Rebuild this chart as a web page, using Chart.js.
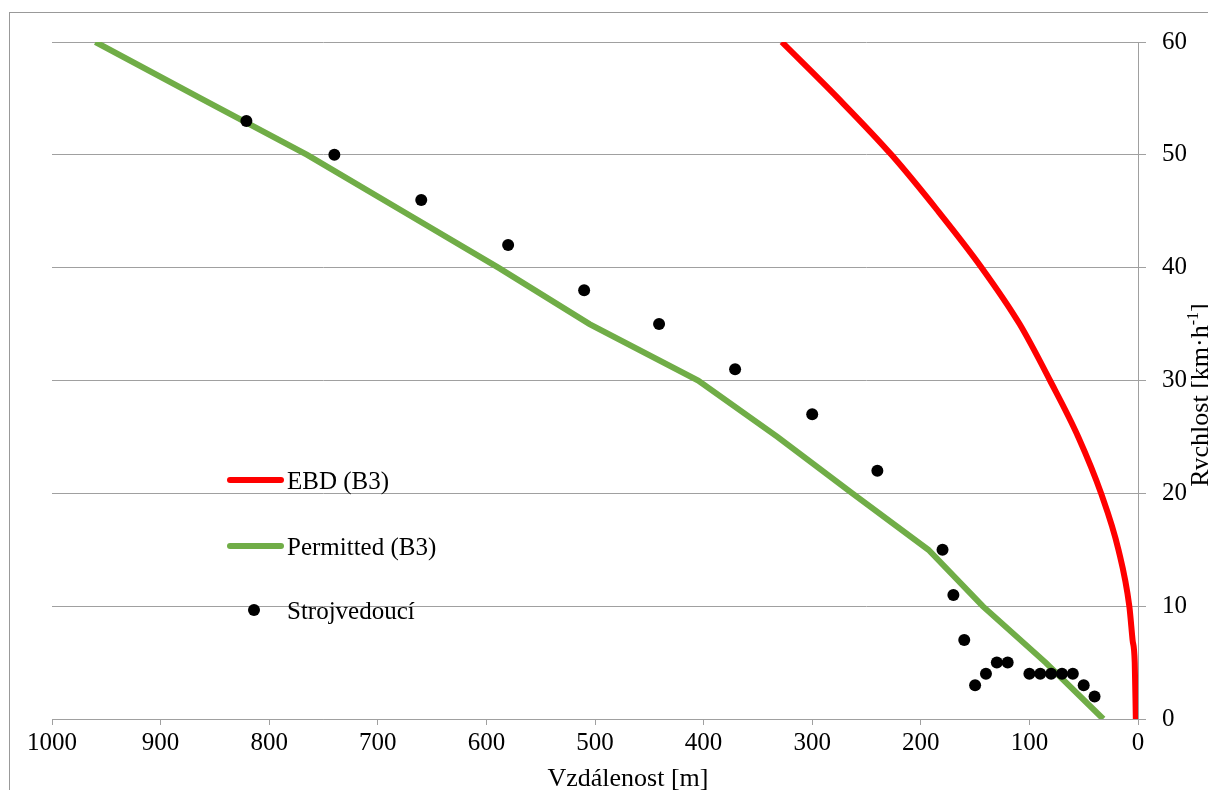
<!DOCTYPE html>
<html>
<head>
<meta charset="utf-8">
<script src="https://cdn.jsdelivr.net/npm/chart.js@4/dist/chart.umd.min.js"></script>
<style>
  html, body { margin: 0; padding: 0; background: #fff; }
  #wrap { width: 1208px; height: 790px; }
</style>
</head>
<body>
<div id="wrap"><canvas id="chart1" width="1208" height="790"></canvas></div>
<script>
// EBD (B3) krivka
var ebdDist  = [328, 276, 227, 184, 144, 109, 81, 55, 34, 18, 8, 5, 3, 2]
var ebdSpeed = [60, 55, 50, 45, 40, 35, 30, 25, 20, 15, 10, 7, 5, 0]

// Permitted (B3) krivka
var permDist  = [960, 863, 765, 677, 589, 505, 405, 332, 263, 193, 143, 85, 32]
var permSpeed = [60, 55, 50, 45, 40, 35, 30, 25, 20, 15, 10, 5, 0]

// jizda strojvedouciho
var drvDist  = [821, 740, 660, 580, 510, 441, 371, 300, 240, 180, 170, 160, 150, 140, 130, 120, 100, 90, 80, 70, 60, 50, 40]
var drvSpeed = [53, 50, 46, 42, 38, 35, 31, 27, 22, 15, 11, 7, 3, 4, 5, 5, 4, 4, 4, 4, 4, 3, 2]

var xTicks = [0, 100, 200, 300, 400, 500, 600, 700, 800, 900, 1000]
var yTicks = [0, 10, 20, 30, 40, 50, 60]

var xTitle = 'Vzdálenost [m]'
var yTitle = ['Rychlost [km·h', '-1', ']']

function pts(xs, ys) {
  return xs.map(function (x, i) { return { x: x, y: ys[i] } })
}

var gridColor = '#a0a0a0'
Chart.defaults.font.family = "'Liberation Serif', 'Times New Roman', serif"
Chart.defaults.color = '#000'

// ramecek kolem grafu
var frame = {
  id: 'frame',
  beforeDraw: function (chart) {
    var ctx = chart.ctx
    ctx.save()
    ctx.fillStyle = '#fff'
    ctx.fillRect(0, 0, chart.width, chart.height)
    ctx.strokeStyle = '#999'
    ctx.lineWidth = 1
    ctx.strokeRect(9.5, 12.5, chart.width + 20, chart.height + 20)
    ctx.restore()
  }
}

// legenda uvnitr plochy grafu + popisky os
var extras = {
  id: 'extras',
  afterDraw: function (chart) {
    var ctx = chart.ctx
    var ds = chart.data.datasets
    var rows = [480, 546, 610]
    ctx.save()
    ctx.font = "25px 'Liberation Serif'"
    ctx.fillStyle = '#000'
    ctx.textBaseline = 'alphabetic'
    ds.forEach(function (d, i) {
      var y = rows[i]
      if (d.showLine) {
        ctx.strokeStyle = d.borderColor
        ctx.lineWidth = d.borderWidth
        ctx.lineCap = 'round'
        ctx.beginPath()
        ctx.moveTo(230, y)
        ctx.lineTo(281, y)
        ctx.stroke()
      } else {
        ctx.fillStyle = d.backgroundColor
        ctx.beginPath()
        ctx.arc(254, y, d.pointRadius, 0, Math.PI * 2)
        ctx.fill()
      }
      ctx.fillStyle = '#000'
      ctx.fillText(d.label, 287, y + 9)
    })

    // popisek osy x
    ctx.font = "26px 'Liberation Serif'"
    ctx.textAlign = 'center'
    ctx.fillText(xTitle, 628, 786)

    // popisek osy y (otoceny, s hornim indexem)
    ctx.translate(1208, 395)
    ctx.rotate(-Math.PI / 2)
    ctx.textAlign = 'left'
    var big = "26px 'Liberation Serif'"
    var small = "16px 'Liberation Serif'"
    ctx.font = big
    var w0 = ctx.measureText(yTitle[0]).width
    var w2 = ctx.measureText(yTitle[2]).width
    ctx.font = small
    var w1 = ctx.measureText(yTitle[1]).width
    var x0 = -(w0 + w1 + w2) / 2
    ctx.font = big
    ctx.fillText(yTitle[0], x0, 0)
    ctx.font = small
    ctx.fillText(yTitle[1], x0 + w0, -10)
    ctx.font = big
    ctx.fillText(yTitle[2], x0 + w0 + w1, 0)
    ctx.restore()
  }
}

var chartData = {
  datasets: [
    {
      label          : 'EBD (B3)',
      data           : pts(ebdDist, ebdSpeed),
      showLine       : true,
      borderColor    : '#ff0000',
      backgroundColor: '#ff0000',
      borderWidth    : 6,
      pointRadius    : 0,
      cubicInterpolationMode: 'monotone',
      order          : 1
    },
    {
      label          : 'Permitted (B3)',
      data           : pts(permDist, permSpeed),
      showLine       : true,
      borderColor    : '#70ad47',
      backgroundColor: '#70ad47',
      borderWidth    : 6,
      pointRadius    : 0,
      tension        : 0,
      order          : 2
    },
    {
      label          : 'Strojvedoucí',
      data           : pts(drvDist, drvSpeed),
      showLine       : false,
      backgroundColor: '#000',
      borderColor    : '#000',
      pointRadius    : 6,
      pointBorderWidth: 0,
      order          : 0
    }
  ]
}

var chartOptions = {
  responsive : false,
  animation  : false,
  layout     : { padding: { left: 52, top: 42, right: 0, bottom: 0 } },
  plugins    : { legend: { display: false }, tooltip: { enabled: false } },
  scales: {
    x: {
      type   : 'linear',
      reverse: true,
      min    : 0,
      max    : 1000,
      afterBuildTicks: function (s) { s.ticks = xTicks.map(function (v) { return { value: v } }) },
      afterFit: function (s) { s.height = 71 },
      ticks  : { font: { size: 25 }, color: '#000', padding: 3, maxRotation: 0,
                 callback: function (v) { return String(v) } },
      grid   : { drawOnChartArea: false, color: gridColor, tickLength: 6 },
      border : { color: gridColor }
    },
    y: {
      position: 'right',
      min     : 0,
      max     : 60,
      afterBuildTicks: function (s) { s.ticks = yTicks.map(function (v) { return { value: v } }) },
      afterFit: function (s) { s.width = 70 },
      ticks   : { font: { size: 25 }, color: '#000', padding: 16,
                  callback: function (v) { return String(v) } },
      grid    : { color: gridColor, tickLength: 8 },
      border  : { color: gridColor }
    }
  }
}

new Chart(document.getElementById('chart1').getContext('2d'), {
  type   : 'scatter',
  data   : chartData,
  options: chartOptions,
  plugins: [frame, extras]
})
</script>
</body>
</html>
